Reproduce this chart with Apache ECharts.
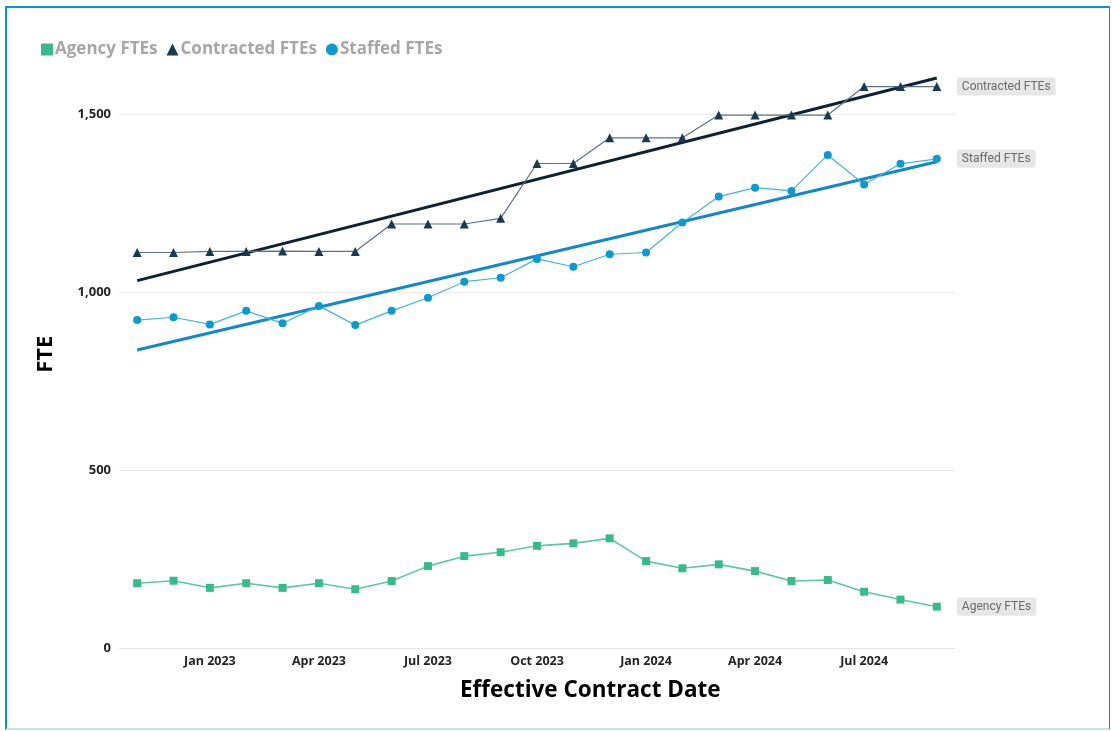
<!DOCTYPE html>
<html>
<head>
<meta charset="utf-8">
<script src="https://cdn.jsdelivr.net/npm/echarts@6/dist/echarts.min.js"></script>
<style>
  html, body { margin: 0; padding: 0; background: #ffffff; }
  #frame { position: absolute; left: 5px; top: 6px; width: 1102px; height: 720px;
    border-top: 2px solid #0b92c9; border-left: 2px solid #0b92c9;
    border-right: 1px solid #1f7fa6; border-bottom: 2px solid #bfe4f2; }
  #chart { position: absolute; left: 0; top: 0; width: 1112px; height: 731px; }
</style>
</head>
<body>
<div id="frame"></div>
<div id="chart"></div>
<script>
const categories = ['Nov 2022','Dec 2022','Jan 2023','Feb 2023','Mar 2023','Apr 2023','May 2023','Jun 2023',
  'Jul 2023','Aug 2023','Sep 2023','Oct 2023','Nov 2023','Dec 2023','Jan 2024','Feb 2024','Mar 2024',
  'Apr 2024','May 2024','Jun 2024','Jul 2024','Aug 2024','Sep 2024'];
const agencyFTEs = [182,189,169,182,169,182,165,188,230,258,269,287,294,308,244,224,235,216,188,191,158,136,116];
const contractedFTEs = [1111,1111,1114,1114,1115,1114,1114,1191,1191,1191,1207,1361,1361,1433,1433,1433,1497,1497,1497,1497,1577,1577,1577];
const staffedFTEs = [921,929,909,947,912,961,907,947,984,1029,1040,1093,1071,1106,1111,1195,1268,1293,1284,1385,1302,1360,1374];
// trend line end values (first / last month)
const contractedTrend = [1032, 1601];
const staffedTrend = [837, 1366];
const yTicks = [0, 500, 1000, 1500];

const chart = echarts.init(document.getElementById('chart'));
const FONT = '"Open Sans", "Noto Sans", sans-serif';
const endLabel = {
  show: true,
  formatter: '{a}',
  distance: 20,
  backgroundColor: '#e6e6e6',
  borderRadius: 3,
  padding: [3, 5, 3, 5],
  color: '#6b6b6b',
  fontFamily: 'Roboto, "Noto Sans", sans-serif',
  fontSize: 12
};
chart.setOption({
  animation: false,
  backgroundColor: 'transparent',
  textStyle: { fontFamily: FONT },
  legend: {
    left: 36, top: 36,
    itemWidth: 12, itemHeight: 12, itemGap: 9,
    textStyle: { color: '#a6a6a6', fontSize: 17, fontWeight: 'bold', fontFamily: FONT, padding: [0,0,0,-3] },
    data: [
      { name: 'Agency FTEs', icon: 'rect' },
      { name: 'Contracted FTEs', icon: 'triangle' },
      { name: 'Staffed FTEs', icon: 'circle' }
    ]
  },
  grid: { left: 119, right: 157, top: 60.6, bottom: 83 },
  xAxis: {
    type: 'category',
    data: categories,
    boundaryGap: true,
    axisLine: { lineStyle: { color: '#e6e6e6' } },
    axisTick: { show: false },
    axisLabel: {
      interval: (i) => i % 3 === 2,
      color: '#252423', fontWeight: 'bold', fontSize: 12.5, margin: 7, fontFamily: FONT
    }
  },
  yAxis: {
    type: 'value',
    min: 0, max: 1650, interval: 500,
    name: 'FTE', nameLocation: 'middle', nameGap: 62, nameRotate: 90,
    nameTextStyle: { color: '#000', fontWeight: 'bold', fontSize: 22, fontFamily: FONT },
    axisLine: { show: false },
    axisTick: { show: false },
    axisLabel: {
      color: '#252423', fontWeight: 'bold', fontSize: 13, margin: 8, fontFamily: FONT,
      showMaxLabel: false,
      formatter: (v) => yTicks.indexOf(v) >= 0 ? v.toLocaleString('en-US') : ''
    },
    splitLine: { show: true, showMaxLine: false, lineStyle: { color: '#ececec', width: 1 } }
  },
  graphic: [{
    type: 'text', left: 460, top: 679,
    style: { text: 'Effective Contract Date', fill: '#000', font: 'bold 22.5px "Open Sans", "Noto Sans", sans-serif' }
  }],
  series: [
    {
      name: 'Contracted trend', type: 'line', silent: true, symbol: 'none', z: 3,
      data: [[categories[0], contractedTrend[0]], [categories[categories.length - 1], contractedTrend[1]]],
      lineStyle: { color: '#0e2133', width: 3 }
    },
    {
      name: 'Staffed trend', type: 'line', silent: true, symbol: 'none', z: 3,
      data: [[categories[0], staffedTrend[0]], [categories[categories.length - 1], staffedTrend[1]]],
      lineStyle: { color: '#1787c2', width: 3 }
    },
    {
      name: 'Agency FTEs', type: 'line', data: agencyFTEs, z: 4,
      symbol: 'rect', symbolSize: 8, showAllSymbol: true,
      itemStyle: { color: '#3cb98b' },
      lineStyle: { color: '#5fc6a0', width: 1.6 },
      endLabel: endLabel
    },
    {
      name: 'Contracted FTEs', type: 'line', data: contractedFTEs, z: 4,
      symbol: 'triangle', symbolSize: 9, showAllSymbol: true,
      itemStyle: { color: '#1b3a52' },
      lineStyle: { color: '#5d7183', width: 1.2 },
      endLabel: endLabel
    },
    {
      name: 'Staffed FTEs', type: 'line', data: staffedFTEs, z: 4,
      symbol: 'circle', symbolSize: 8, showAllSymbol: true,
      itemStyle: { color: '#0f98cd' },
      lineStyle: { color: '#46b1de', width: 1.2 },
      endLabel: endLabel
    }
  ]
});
</script>
</body>
</html>
